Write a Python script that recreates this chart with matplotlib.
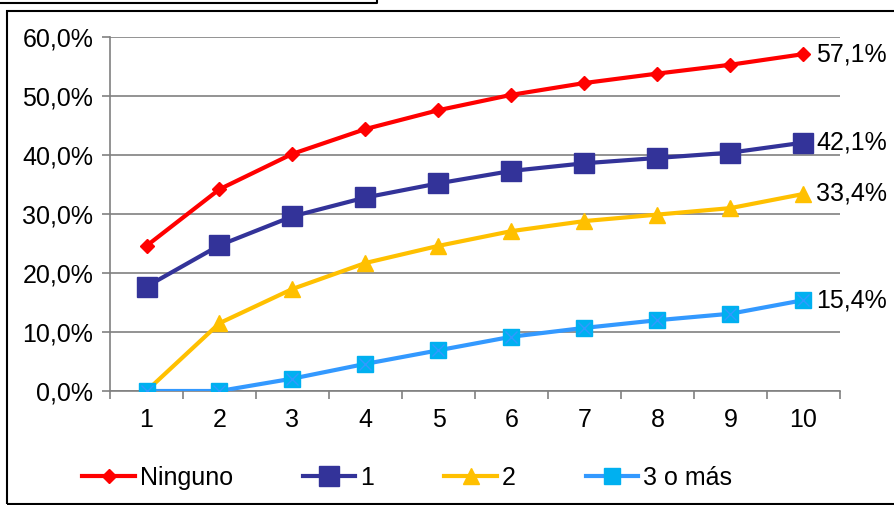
import matplotlib
matplotlib.use('Agg')
import matplotlib.pyplot as plt
from matplotlib.patches import Rectangle
from matplotlib.lines import Line2D
import numpy as np

plt.rcParams['font.family'] = ['Liberation Sans', 'DejaVu Sans']

categories = [1, 2, 3, 4, 5, 6, 7, 8, 9, 10]
ninguno = [24.6, 34.2, 40.2, 44.4, 47.6, 50.2, 52.2, 53.8, 55.3, 57.1]
uno = [17.7, 24.7, 29.6, 32.8, 35.2, 37.3, 38.6, 39.5, 40.4, 42.1]
dos = [0.0, 11.5, 17.3, 21.7, 24.6, 27.1, 28.8, 29.9, 31.0, 33.4]
tres_mas = [0.0, 0.0, 2.1, 4.6, 6.9, 9.2, 10.7, 12.0, 13.1, 15.4]
series_names = ['Ninguno', '1', '2', '3 o más']
y_ticks = [0, 10, 20, 30, 40, 50, 60]

FS = 18

def pct(v):
    return ('%.1f' % v).replace('.', ',') + '%'

fig = plt.figure(figsize=(8.95, 5.05), dpi=100)
ax = fig.add_axes([110/895, 1 - 391/505, 730/895, 354/505])

x = np.array(categories)
ax.plot(x, ninguno, color='#FF0000', lw=3, marker='D', ms=7, mec='#FF0000', label=series_names[0], zorder=4)
ax.plot(x, uno, color='#333399', lw=3, marker='s', ms=14, mec='#333399', label=series_names[1], zorder=4)
ax.plot(x, dos, color='#FFC000', lw=3, marker='^', ms=11, mec='#FFC000', label=series_names[2], zorder=4)
ax.plot(x, tres_mas, color='#3399FF', lw=3, marker='s', ms=11, mfc='#00B0F0', mec='#00B0F0', label=series_names[3], zorder=4)
ax.plot(x, tres_mas, ls='none', marker='x', ms=8, mec='#3399FF', mew=1, zorder=5)

for vals in [ninguno, uno, dos, tres_mas]:
    ax.annotate(pct(vals[-1]), xy=(x[-1], vals[-1]), xytext=(9, 0), textcoords='offset points',
                va='center', ha='left', fontsize=FS)

ax.set_xlim(0.5, 10.5)
ax.set_ylim(0, 60)
ax.set_yticks(y_ticks)
ax.set_yticklabels([pct(v) for v in y_ticks], fontsize=FS)
ax.set_xticks(x)
ax.set_xticklabels([str(c) for c in categories], fontsize=FS)
ax.set_xticks(np.arange(0.5, 11, 1), minor=True)
ax.tick_params(axis='x', which='major', length=0, pad=12)
ax.tick_params(axis='x', which='minor', length=6, color='#808080', width=1.2, direction='out')
ax.tick_params(axis='y', length=6, color='#808080', width=1.2, pad=6)
ax.grid(axis='y', color='#808080', lw=1.2)
ax.set_axisbelow(True)
for s in ['top', 'right']:
    ax.spines[s].set_visible(False)
for s in ['left', 'bottom']:
    ax.spines[s].set_color('#808080')
    ax.spines[s].set_linewidth(1.2)

handles, labels = ax.get_legend_handles_labels()
fig.legend(handles, labels, loc='center', bbox_to_anchor=(0.455, 1 - 478/505), ncol=4,
           frameon=False, fontsize=FS, handlelength=2.1, handletextpad=0.2, columnspacing=2.8)

fig.patches.append(Rectangle((7/895, 1 - 504/505), 900/895, 493/505, transform=fig.transFigure,
                             fill=False, ec='black', lw=1.5))
fig.lines.append(Line2D([0, 377/895, 377/895], [1 - 3/505, 1 - 3/505, 1.0], transform=fig.transFigure,
                        color='black', lw=1.5))

plt.savefig('out.png', dpi=100)
